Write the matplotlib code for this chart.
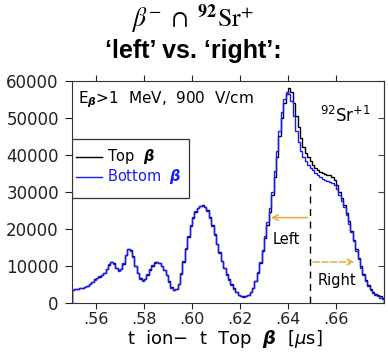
import numpy as np
import matplotlib
matplotlib.use("Agg")
import matplotlib.pyplot as plt
from matplotlib.patches import Rectangle

# histogram binning (t_ion - t_Top beta, in microseconds)
t_lo = 0.550
bin_width = 0.001

# counts per bin: Top beta detector
top_counts = [
    3500, 3700, 3800, 3900, 4000, 4200, 4500, 5000, 5700, 6300,
    6700, 7000, 7400, 7900, 9000, 10300, 11000, 10600, 9500, 8800,
    9000, 10500, 12800, 14500, 14200, 12500, 10000, 8000, 6600, 6100,
    6500, 7600, 8900, 10000, 10800, 11100, 10800, 10000, 8900, 7500,
    5800, 4200, 3500, 3600, 5000, 7800, 11000, 14500, 17800, 20800,
    23000, 24500, 25600, 26200, 26300, 26000, 25000, 23200, 21000, 18500,
    16000, 13600, 11400, 9500, 7800, 6300, 5000, 3900, 2900, 2200,
    1800, 1700, 1700, 2000, 2800, 4000, 5800, 8000, 10800, 14000,
    17500, 21000, 24500, 29000, 34000, 39500, 45000, 50000, 54000, 56500,
    58000, 57000, 54000, 50500, 47500, 44500, 42000, 40500, 39300, 38300,
    37300, 36500, 35800, 35300, 35000, 34800, 34600, 34400, 34000, 33200,
    31800, 30000, 28300, 26500, 24300, 22000, 19500, 17000, 14500, 12000,
    9800, 7800, 6200, 4900, 3800, 3000, 2400, 2000, 1700, 1300,
]

# Bottom beta detector
bottom_counts = [
    3400, 3700, 3800, 3950, 4100, 4200, 4600, 5100, 5700, 6200,
    6700, 7100, 7500, 8000, 9100, 10400, 11000, 10500, 9400, 8700,
    9100, 10600, 12900, 14400, 14100, 12300, 9800, 7900, 6500, 6000,
    6500, 7700, 9000, 10100, 10900, 11000, 10700, 9900, 8800, 7400,
    5700, 4100, 3400, 3600, 5100, 7900, 11200, 14700, 18000, 21000,
    23200, 24700, 25700, 26200, 26200, 25800, 24800, 23000, 20800, 18300,
    15800, 13400, 11200, 9300, 7600, 6100, 4900, 3800, 2800, 2100,
    1700, 1600, 1700, 2000, 2900, 4100, 6000, 8200, 11000, 14300,
    18000, 21800, 25500, 30000, 35500, 41000, 46500, 51500, 55000, 57000,
    56500, 54500, 50500, 46500, 43500, 41000, 39300, 38200, 37200, 36500,
    35800, 35000, 34400, 33900, 33500, 33200, 32900, 32600, 32300, 31700,
    30700, 29200, 27600, 25800, 23700, 21400, 19000, 16600, 14100, 11700,
    9500, 7500, 5900, 4600, 3500, 2700, 2100, 1700, 1400, 1100,
]

x_ticks = [0.56, 0.58, 0.60, 0.62, 0.64, 0.66]
x_tick_labels = [".56", ".58", ".60", ".62", ".64", ".66"]
y_ticks = [0, 10000, 20000, 30000, 40000, 50000, 60000]

split_t = 0.6493      # dashed line between 'left' and 'right'
split_top = 32500
left_end, left_y = 0.6317, 23000
right_end, right_y = 0.6689, 11000

gold = "#e5b04f"
blue = "#1a1aff"

edges = t_lo + bin_width * np.arange(len(top_counts) + 1)

fig = plt.figure(figsize=(3.88, 3.54), dpi=100)
ax = fig.add_axes([0.1856, 0.1449, 0.8041, 0.6271])

ax.stairs(top_counts, edges, baseline=0, color="black", lw=1.0, fill=False)
ax.stairs(bottom_counts, edges, baseline=0, color=blue, lw=1.0, fill=False)

ax.plot([split_t, split_t], [0, split_top], color="black", lw=1.0, ls=(0, (5, 4)))
ax.annotate("", xy=(left_end, left_y), xytext=(split_t, left_y),
            arrowprops=dict(arrowstyle="->", color=gold, lw=1.2))
ax.annotate("", xy=(right_end, right_y), xytext=(split_t, right_y),
            arrowprops=dict(arrowstyle="->", color=gold, lw=1.2, ls="--"))
ax.text(0.6392, 17200, "Left", ha="center", va="center", fontsize=10.5)
ax.text(0.6605, 6100, "Right", ha="center", va="center", fontsize=10.5)

ax.text(0.5525, 54800, r"E$_{\boldsymbol{\beta}}$>1  MeV,  900  V/cm",
        ha="left", va="center", fontsize=11)
ax.text(0.6535, 50500, r"$^{92}$Sr$^{+1}$", ha="left", va="center", fontsize=12)

# legend box drawn by hand
ax.add_patch(Rectangle((0, 0.472), 0.375, 0.264, transform=ax.transAxes,
                       facecolor="white", edgecolor="#333333", lw=0.9, zorder=5))
ax.plot([0.013, 0.096], [0.658, 0.658], transform=ax.transAxes, color="black", lw=1, zorder=6)
ax.plot([0.013, 0.096], [0.568, 0.568], transform=ax.transAxes, color=blue, lw=1, zorder=6)
ax.text(0.112, 0.658, r"Top  $\boldsymbol{\beta}$", transform=ax.transAxes,
        va="center", fontsize=10.5, zorder=6)
ax.text(0.112, 0.568, r"Bottom  $\boldsymbol{\beta}$", transform=ax.transAxes,
        va="center", fontsize=10.5, color=blue, zorder=6)

ax.set_xlim(0.55, 0.68)
ax.set_ylim(0, 60000)
ax.set_xticks(x_ticks)
ax.set_xticklabels(x_tick_labels)
ax.set_yticks(y_ticks)
ax.set_yticklabels([str(v) for v in y_ticks])
ax.tick_params(axis="x", direction="out", top=True, length=4, labelsize=11.5,
               pad=2.5, colors="#222222")
ax.tick_params(axis="y", direction="out", right=False, length=5, labelsize=12,
               pad=4.5, colors="#222222")
sec = ax.secondary_yaxis("right")
sec.set_yticks(y_ticks)
sec.tick_params(direction="in", length=4, labelright=False, color="#444444")
for s in ax.spines.values():
    s.set_color("#333333")
sec.spines["right"].set_color("#555555")

fig.text(0.578, 0.012, r"t  ion$-$  t  Top  $\boldsymbol{\beta}$  [$\mu$s]",
         ha="center", va="bottom", fontsize=13)

fig.text(0.497, 0.947, r"$\beta^{-}\ \cap\ ^{\mathbf{92}}\mathrm{Sr}^{+}$",
         ha="center", va="center", fontsize=18.5, math_fontfamily="stix")
fig.text(0.497, 0.856, "\u2018left\u2019 vs. \u2018right\u2019:", ha="center", va="center",
         fontsize=18, fontweight="bold", family="Liberation Sans")

fig.savefig("out.png", dpi=100)
